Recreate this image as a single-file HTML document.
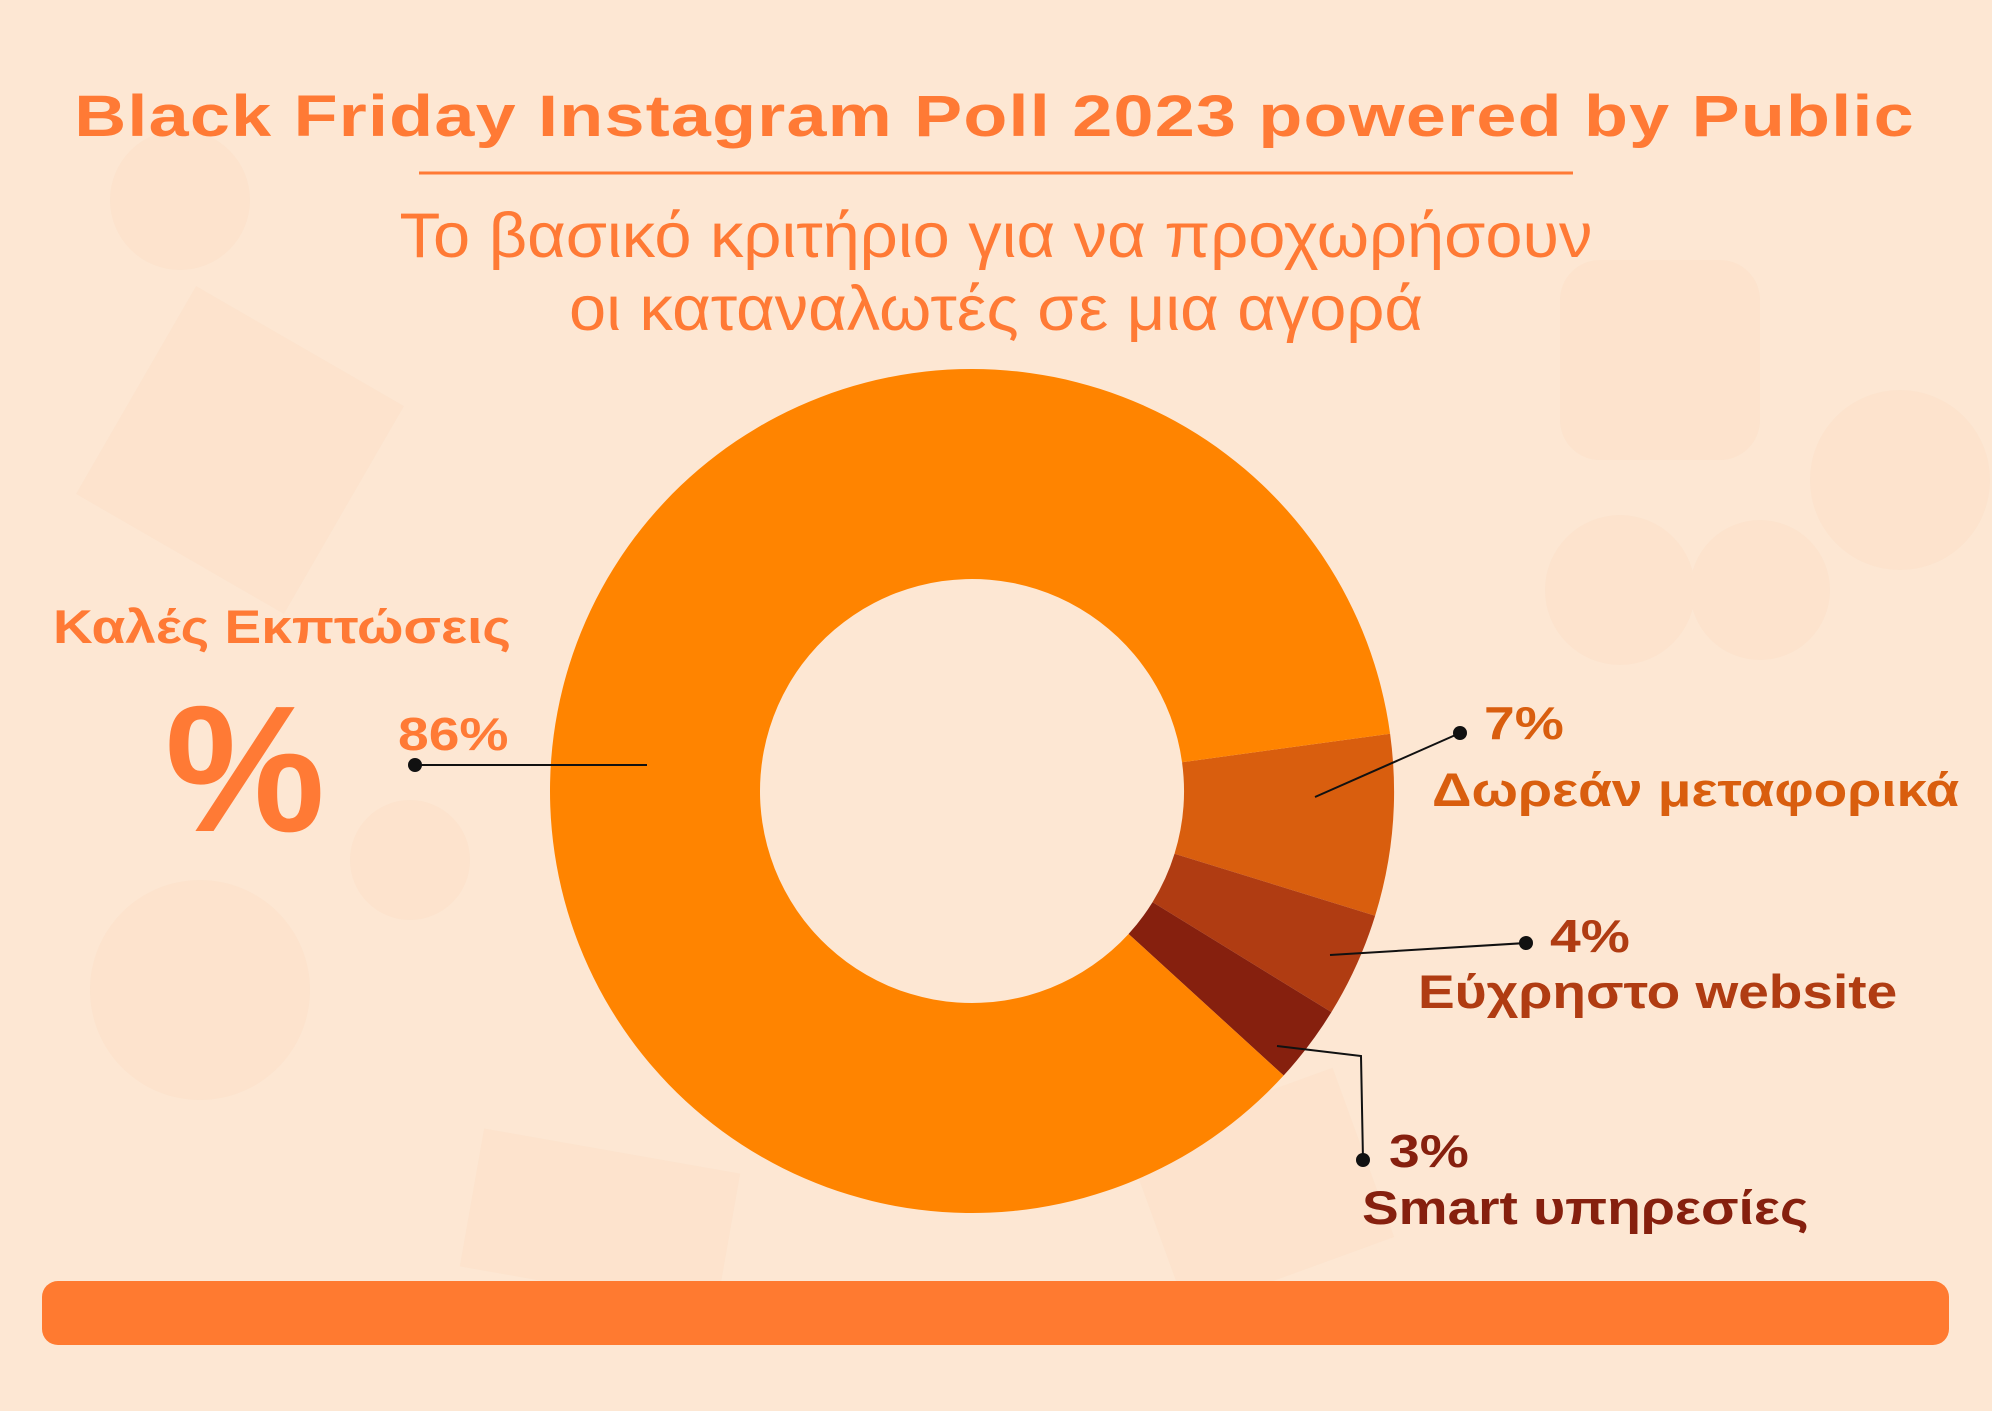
<!DOCTYPE html>
<html><head><meta charset="utf-8"><style>
html,body{margin:0;padding:0}
body{width:1992px;height:1411px;background:#fde7d3;position:relative;overflow:hidden;font-family:"Liberation Sans","DejaVu Sans",sans-serif}
.t{position:absolute;white-space:nowrap;font-weight:bold;line-height:1;transform-origin:0 0}
.s{transform:scaleX(1.17)}
.p{transform:scaleX(1.2)}
</style></head><body>
<svg width="1992" height="1411" style="position:absolute;left:0;top:0">
<g fill="#fbdcc2" opacity="0.35">
<circle cx="180" cy="200" r="70"/><rect x="120" y="330" width="240" height="240" transform="rotate(30 240 450)"/>
<circle cx="410" cy="860" r="60"/><circle cx="1620" cy="590" r="75"/><circle cx="1760" cy="590" r="70"/>
<rect x="1560" y="260" width="200" height="200" rx="40"/><circle cx="1900" cy="480" r="90"/>
<rect x="1150" y="1100" width="220" height="180" transform="rotate(-20 1260 1190)"/>
<circle cx="200" cy="990" r="110"/><rect x="470" y="1150" width="260" height="140" transform="rotate(10 600 1220)"/>
</g>
<line x1="419" y1="173" x2="1573" y2="173" stroke="#ff7a35" stroke-width="3"/>
<g id="donut"></g>
<rect x="42" y="1281" width="1907" height="64" rx="16" fill="#ff7a30"/>
<g stroke="#111" stroke-width="2" fill="none">
<line x1="415" y1="765" x2="647" y2="765"/>
<line x1="1460" y1="733" x2="1315" y2="797"/>
<line x1="1526" y1="943" x2="1330" y2="955"/>
<polyline points="1277,1046 1361,1056 1363,1160"/>
</g>
<g fill="#111"><circle cx="415" cy="765" r="7"/><circle cx="1460" cy="733" r="7"/><circle cx="1526" cy="943" r="7"/><circle cx="1363" cy="1160" r="7"/></g>
</svg>
<script>
(function(){
var cx=972,cy=791,R=422,r=212,g=document.getElementById('donut');
function p(a){return a*Math.PI/180}
function seg(a0,a1,c){var l=(a1-a0)>180?1:0;
var x0=cx+R*Math.cos(p(a0)),y0=cy+R*Math.sin(p(a0)),x1=cx+R*Math.cos(p(a1)),y1=cy+R*Math.sin(p(a1));
var x2=cx+r*Math.cos(p(a1)),y2=cy+r*Math.sin(p(a1)),x3=cx+r*Math.cos(p(a0)),y3=cy+r*Math.sin(p(a0));
var e=document.createElementNS('http://www.w3.org/2000/svg','path');
e.setAttribute('d','M'+x0+' '+y0+'A'+R+' '+R+' 0 '+l+' 1 '+x1+' '+y1+'L'+x2+' '+y2+'A'+r+' '+r+' 0 '+l+' 0 '+x3+' '+y3+'Z');
e.setAttribute('fill',c);g.appendChild(e);}
seg(-7.8,17.2,'#d95e0e');seg(17.2,31.6,'#b03c12');seg(31.6,42.4,'#86200e');seg(42.4,352.2,'#ff8400');
})();
</script>
<div class="t" style="left:0;top:88px;width:1992px;text-align:center;font-size:58px;color:#ff7a35;font-weight:900;letter-spacing:1px;transform:scaleX(1.24);transform-origin:1002px 0">Black Friday Instagram Poll 2023 powered by Public</div>
<div class="t" style="left:0;top:200px;width:1992px;text-align:center;font-size:63px;color:#ff7a35;font-weight:normal;line-height:73px;transform:scaleX(1.06);transform-origin:996px 0">Το βασικό κριτήριο για να προχωρήσουν<br>οι καταναλωτές σε μια αγορά</div>
<div class="t s" style="left:53px;top:603px;font-size:47px;color:#ff7a35">Καλές Εκπτώσεις</div>
<div class="t" style="left:165px;top:680px;font-size:180px;color:#ff7a35;font-weight:900">%</div>
<div class="t p" style="left:398px;top:711px;font-size:46px;color:#ff7a35">86%</div>
<div class="t p" style="left:1484px;top:700px;font-size:46px;color:#d95e0e">7%</div>
<div class="t s" style="left:1432px;top:766px;font-size:47px;color:#d95e0e">Δωρεάν μεταφορικά</div>
<div class="t p" style="left:1550px;top:913px;font-size:46px;color:#b03c12">4%</div>
<div class="t s" style="left:1418px;top:968px;font-size:47px;color:#b03c12">Εύχρηστο website</div>
<div class="t p" style="left:1389px;top:1128px;font-size:46px;color:#86200e">3%</div>
<div class="t s" style="left:1362px;top:1184px;font-size:47px;color:#86200e">Smart υπηρεσίες</div>
</body></html>
